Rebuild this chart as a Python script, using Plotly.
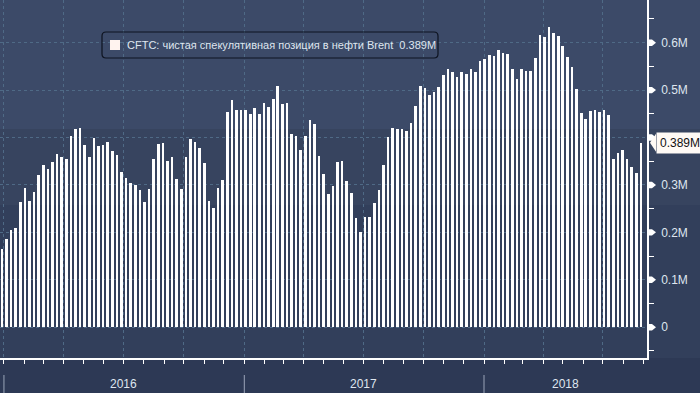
import plotly.graph_objects as go
import pandas as pd

# ---- data (net speculative position, millions of contracts) ----
values = [
    0.165, 0.186, 0.204, 0.209, 0.263, 0.294, 0.266, 0.285, 0.321, 0.342,
    0.334, 0.349, 0.365, 0.358, 0.355, 0.403, 0.419, 0.420, 0.384, 0.358,
    0.398, 0.382, 0.384, 0.391, 0.372, 0.363, 0.327, 0.314, 0.304, 0.299,
    0.289, 0.263, 0.292, 0.355, 0.387, 0.389, 0.351, 0.359, 0.313, 0.292,
    0.359, 0.397, 0.391, 0.378, 0.346, 0.266, 0.252, 0.294, 0.311, 0.454,
    0.479, 0.457, 0.457, 0.458, 0.450, 0.462, 0.450, 0.473, 0.465, 0.481,
    0.509, 0.471, 0.473, 0.408, 0.403, 0.374, 0.403, 0.437, 0.429, 0.361,
    0.323, 0.281, 0.298, 0.349, 0.351, 0.308, 0.283, 0.230, 0.201, 0.233,
    0.233, 0.262, 0.289, 0.342, 0.401, 0.420, 0.418, 0.418, 0.414, 0.431,
    0.467, 0.509, 0.505, 0.490, 0.496, 0.507, 0.532, 0.545, 0.538, 0.528,
    0.538, 0.534, 0.545, 0.538, 0.561, 0.566, 0.574, 0.572, 0.585, 0.578,
    0.576, 0.545, 0.523, 0.545, 0.540, 0.540, 0.568, 0.616, 0.612, 0.633,
    0.621, 0.614, 0.593, 0.570, 0.549, 0.502, 0.452, 0.439, 0.456, 0.458,
    0.454, 0.458, 0.448, 0.355, 0.367, 0.374, 0.355, 0.338, 0.325, 0.389,
]
first_date = "2015-12-29"
dates = pd.date_range(first_date, periods=len(values), freq="7D")

tick_vals = [0, 0.1, 0.2, 0.3, 0.4, 0.5, 0.6]
tick_text = ["0", "0.1M", "0.2M", "0.3M", "0.4M", "0.5M", "0.6M"]
years = ["2016", "2017", "2018"]
year_starts = ["2016-01-01", "2017-01-01", "2018-01-01"]
series_name = "CFTC: чистая спекулятивная позиция в нефти Brent"
last_label = "0.389M"

# ---- layout constants ----
W, H = 700, 393
ML, MR, MT, MB = 0, 53, 0, 35
PW, PH = W - ML - MR, H - MT - MB
x_range = ["2015-12-26 00:00", "2018-09-06 05:00"]
y_range = [-0.065, 0.69]
FONT = "Liberation Sans"
TXT = "#dfe6ef"
GRID = "#4f6a86"

def px_x(p):
    return p / PW

def px_y(p):
    return 1 - p / PH

last_v = values[-1]
# the last-value callout hides the tick label it sits on (as in the source chart)
shown_ticktext = [t if abs(v - last_v) > 0.03 else "" for v, t in zip(tick_vals, tick_text)]

fig = go.Figure()
fig.add_trace(go.Bar(
    x=dates, y=values, name=series_name,
    marker=dict(color="#ffffff", line=dict(width=0)),
    width=4 * 86400000, showlegend=False, hoverinfo="skip",
))

shapes = []
# background bands (full width)
bands = [(0, 129, "#3c4a68"), (129, 205, "#37445f"), (205, 358, "#323f5b"), (358, 393, "#2d3955")]
for y0, y1, c in bands:
    shapes.append(dict(type="rect", xref="paper", yref="paper", x0=-0.01, x1=W / PW + 0.01,
                       y0=px_y(y1), y1=px_y(y0), fillcolor=c, line=dict(width=0), layer="below"))

# tick arrows on right axis
dy = 3.2 / (PH / (y_range[1] - y_range[0]))
for v in tick_vals:
    shapes.append(dict(type="path", xref="paper", yref="y",
                       path=f"M 1.0,{v + dy} L {1 + px_x(5)},{v + dy} L {1 + px_x(9)},{v} L {1 + px_x(5)},{v - dy} L 1.0,{v - dy} Z",
                       fillcolor="#ffffff", line=dict(width=0)))

# year separators
for ys in year_starts:
    shapes.append(dict(type="line", xref="x", yref="paper", x0=ys, x1=ys,
                       y0=px_y(375), y1=px_y(393), line=dict(color="#9aa4b8", width=1)))

# legend box (rounded)
bx0, bx1, by0, by1, r = 102, 438, 32, 58, 4
path = (f"M {px_x(bx0 + r)},{px_y(by0)} L {px_x(bx1 - r)},{px_y(by0)} "
        f"Q {px_x(bx1)},{px_y(by0)} {px_x(bx1)},{px_y(by0 + r)} L {px_x(bx1)},{px_y(by1 - r)} "
        f"Q {px_x(bx1)},{px_y(by1)} {px_x(bx1 - r)},{px_y(by1)} L {px_x(bx0 + r)},{px_y(by1)} "
        f"Q {px_x(bx0)},{px_y(by1)} {px_x(bx0)},{px_y(by1 - r)} L {px_x(bx0)},{px_y(by0 + r)} "
        f"Q {px_x(bx0)},{px_y(by0)} {px_x(bx0 + r)},{px_y(by0)} Z")
shapes.append(dict(type="path", xref="paper", yref="paper", path=path,
                   line=dict(color="#0d1320", width=1.2), fillcolor="rgba(0,0,0,0)"))
shapes.append(dict(type="rect", xref="paper", yref="paper", x0=px_x(110), x1=px_x(120),
                   y0=px_y(50), y1=px_y(40), fillcolor="#fff3ef", line=dict(width=0)))

# last value callout pointer
dh = 9 / (PH / (y_range[1] - y_range[0]))
shapes.append(dict(type="path", xref="paper", yref="y",
                   path=f"M {1 + px_x(3)},{last_v} L {1 + px_x(9)},{last_v + dh} L {1 + px_x(9)},{last_v - dh} Z",
                   fillcolor="#fffaf5", line=dict(width=0)))

annotations = []
annotations.append(dict(xref="paper", yref="paper", x=px_x(125), y=px_y(45), xanchor="left", yanchor="middle",
                        text=f"{series_name}  {last_label}", showarrow=False,
                        font=dict(family=FONT, size=11, color=TXT)))
annotations.append(dict(xref="paper", yref="y", x=1 + px_x(8.5), y=last_v, xanchor="left", yanchor="middle",
                        text=last_label, showarrow=False, bgcolor="#fffaf5", borderpad=3,
                        font=dict(family=FONT, size=12, color="#111111")))
mid2018 = pd.Timestamp(year_starts[2]) + (pd.Timestamp(x_range[1]) - pd.Timestamp(year_starts[2])) / 2
year_pos = [pd.Timestamp(year_starts[0]) + pd.Timedelta(days=182),
            pd.Timestamp(year_starts[1]) + pd.Timedelta(days=181), mid2018]
for yl, xp in zip(years, year_pos):
    annotations.append(dict(xref="x", yref="paper", x=xp, y=px_y(384), xanchor="center", yanchor="middle",
                            text=yl, showarrow=False, font=dict(family=FONT, size=12, color=TXT)))

fig.update_layout(
    width=W, height=H, margin=dict(l=ML, r=MR, t=MT, b=MB),
    paper_bgcolor="#3c4a68", plot_bgcolor="rgba(0,0,0,0)",
    bargap=0, hovermode=False, showlegend=False,
    shapes=shapes, annotations=annotations,
    xaxis=dict(type="date", range=x_range, showticklabels=False,
               dtick="M3", tick0="2016-01-01", ticks="outside", ticklen=4, tickcolor="#ffffff", tickwidth=1,
               showgrid=True, gridcolor=GRID, griddash="dot", gridwidth=1,
               minor=dict(dtick="M1", ticks="outside", ticklen=4, tickcolor="#ffffff", showgrid=False),
               showline=True, linecolor="#ffffff", linewidth=1.5, zeroline=False, fixedrange=True),
    yaxis=dict(side="right", range=y_range, tickvals=tick_vals, ticktext=shown_ticktext,
               ticks="", showgrid=True, gridcolor=GRID, griddash="dot", gridwidth=1,
               minor=dict(tickvals=[-0.05, 0.05, 0.15, 0.25, 0.35, 0.45, 0.55, 0.65], ticks="outside",
                          ticklen=5, tickcolor="#ffffff", showgrid=False),
               ticklabelstandoff=10,
               tickfont=dict(family=FONT, size=12, color=TXT),
               showline=True, linecolor="#ffffff", linewidth=1.5, zeroline=False, fixedrange=True),
)

fig.write_html("out.html", config={"displayModeBar": False},
               post_script="document.body.style.margin='0';document.body.style.overflow='hidden';")
